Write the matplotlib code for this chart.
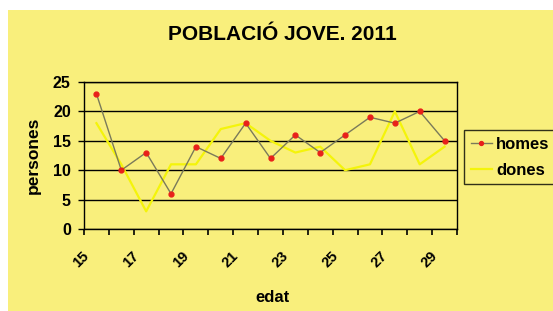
import matplotlib
matplotlib.use("Agg")
import matplotlib.pyplot as plt
from matplotlib.patches import Rectangle
from matplotlib.transforms import ScaledTranslation

ages = list(range(15, 30))
homes = [23, 10, 13, 6, 14, 12, 18, 12, 16, 13, 16, 19, 18, 20, 15]
dones = [18, 11, 3, 11, 11, 17, 18, 15, 13, 14, 10, 11, 20, 11, 14]
tick_labels = ["15", "17", "19", "21", "23", "25", "27", "29"]

plt.rcParams['font.family'] = ['Liberation Sans', 'DejaVu Sans']
W, H = 553, 311
fig = plt.figure(figsize=(W/100, H/100), dpi=100, facecolor='white')
bg = '#f9ef7c'
fig.patches.append(Rectangle((8/W, 0), 1, 1 - 10/H, transform=fig.transFigure,
                             facecolor=bg, edgecolor='none', zorder=-10))

ax = fig.add_axes([84/W, 1 - 229/H, (457-84)/W, (229-82)/H])
ax.set_facecolor(bg)
x = list(range(len(ages)))
ax.plot(x, homes, color='#7a7a5a', lw=1.0, marker='o', ms=3.5,
        mfc='#e8201a', mec='#e8201a', label='homes', zorder=3)
ax.plot(x, dones, color='#f4f40a', lw=1.6, label='dones', zorder=2)

ax.set_yticks([0, 5, 10, 15, 20, 25])
ax.yaxis.grid(True, color='black', lw=1.0)
ax.set_axisbelow(True)
ax.set_xticks([i - 0.5 for i in range(len(ages) + 1)])
ax.set_xticklabels([])
ax.set_xticks([ages.index(int(t)) for t in tick_labels], minor=True)
ax.set_xticklabels(tick_labels, minor=True, rotation=45, fontweight='bold',
                   fontsize=10.5, ha='center', va='center')
ax.set_xlim(-0.5, len(ages) - 0.5)
ax.set_ylim(0, 25)
ax.tick_params(axis='x', which='major', length=4, direction='out', width=1.2, color='black')
ax.tick_params(axis='x', which='minor', length=0, pad=22)
ax.tick_params(axis='y', length=4.5, direction='out', width=1.0, labelsize=11.5, pad=5)
# labels sit a little left of each category centre, as in the reference
off = ScaledTranslation(-15/100, 0, fig.dpi_scale_trans)
for lab in ax.get_xticklabels(minor=True):
    lab.set_transform(lab.get_transform() + off)
for lab in ax.get_yticklabels():
    lab.set_fontweight('bold')
for s in ax.spines.values():
    s.set_color('black')
    s.set_linewidth(1.0)

ax.set_ylabel('persones', fontweight='bold', fontsize=12.5)
ax.yaxis.set_label_coords((41-84)/373, 0.5)
ax.set_xlabel('edat', fontweight='bold', fontsize=12)
ax.xaxis.set_label_coords((272-84)/373, (229-290)/147)
fig.text(282/W, 1 - 35/H, 'POBLACIÓ JOVE. 2011', ha='center', va='center',
         fontweight='bold', fontsize=15)

leg = fig.legend(loc='upper left', bbox_to_anchor=(464/W, 1 - 130/H),
                 frameon=True, fancybox=False, fontsize=12, handlelength=1.25,
                 handletextpad=0.27, borderpad=0.4, labelspacing=0.65,
                 borderaxespad=0, markerscale=0.8)
leg.get_frame().set_edgecolor('black')
leg.get_frame().set_facecolor(bg)
leg.get_frame().set_linewidth(1.0)
for t in leg.get_texts():
    t.set_fontweight('bold')

fig.savefig('out.png', dpi=100, facecolor='white')
